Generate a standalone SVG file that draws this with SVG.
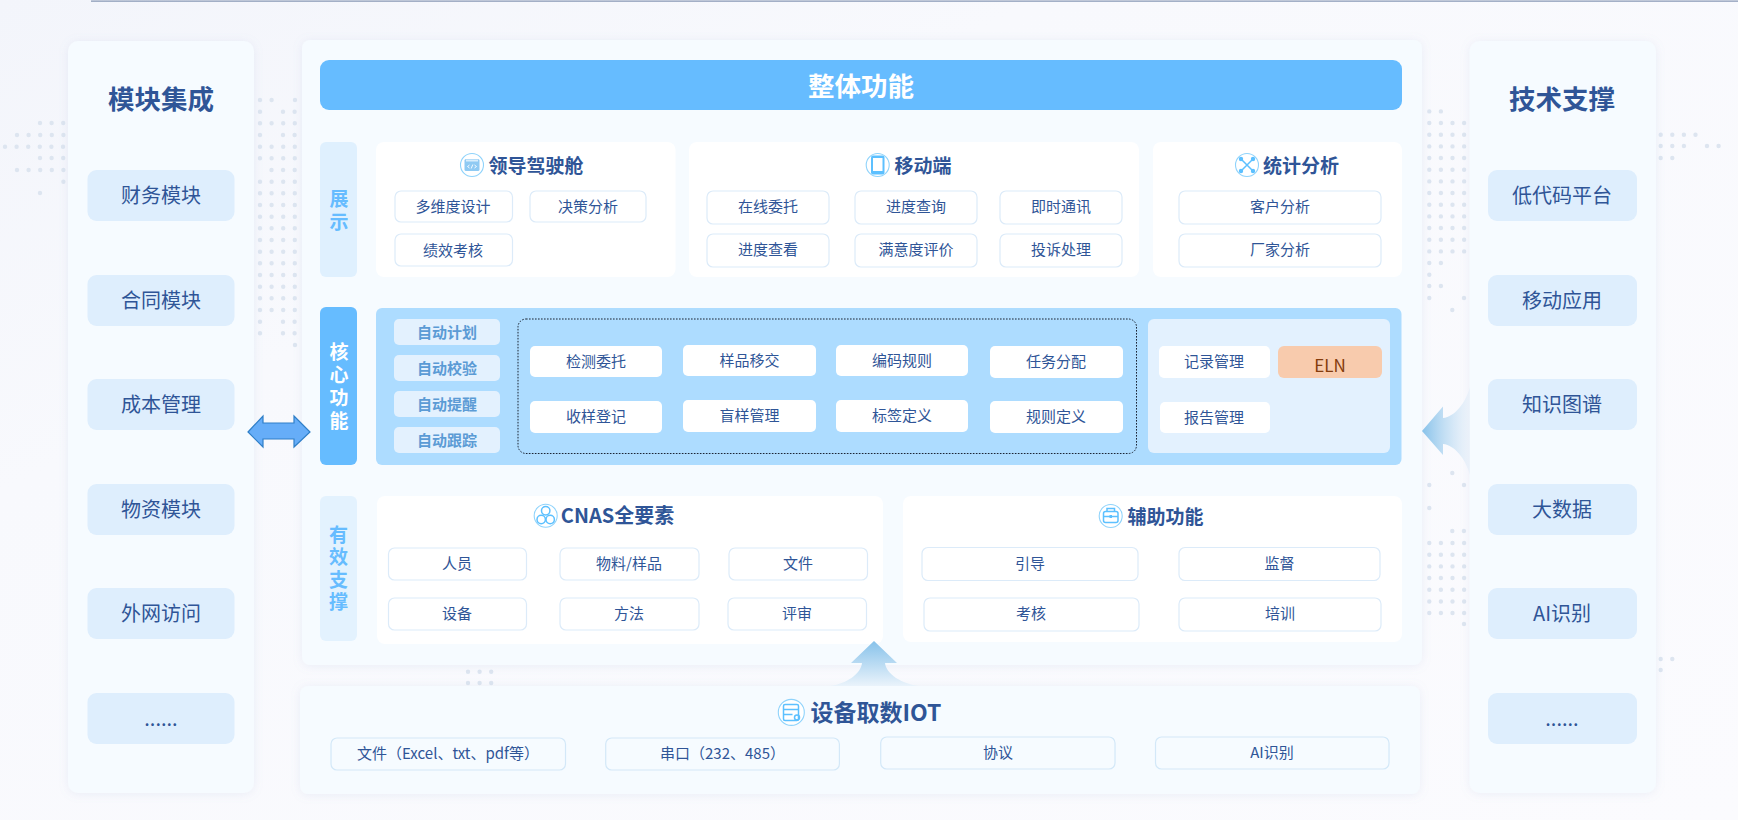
<svg xmlns="http://www.w3.org/2000/svg" width="1738" height="820" viewBox="0 0 1738 820">
<style>
text{font-family:"Noto Sans CJK SC","Noto Sans",sans-serif;text-anchor:middle;dominant-baseline:central;fill:#2f5597;font-size:15px;transform:translateY(-1px)}
.panel{fill:#f6fbff;filter:url(#sh)}
.card{fill:#fff}
.item{fill:#fff;stroke:#dcebf9;stroke-width:1.2}
.core{fill:#fff}
.low{fill:#f6fbff;stroke:#d3e8f8;stroke-width:1.2}
.mod{fill:#deeefd}
.mod+text{font-size:20px}
.h1{font-size:26.5px;font-weight:700}
.h2{font-size:19px;font-weight:700}
.v{font-size:19px;font-weight:700;fill:#66bcff;writing-mode:vertical-rl;letter-spacing:4px;transform:none}
.auto{fill:#e3f1fe}
.auto+text{font-weight:700;fill:#5b9bd5}
.dots{fill:none;stroke:#dde5f0;stroke-width:4.4;stroke-linecap:round;stroke-dasharray:0 11.6}
.ring{fill:#fff;stroke:#8fd3fb;stroke-width:1.1}
.ic{fill:none;stroke:#5cc0ff;stroke-width:1.5}
.if{fill:#5cc0ff}
</style>
<defs>
<linearGradient id="bg" x1="0" y1="0" x2="1" y2="1"><stop offset="0" stop-color="#f3f5fb"/><stop offset=".3" stop-color="#f8f9fd"/><stop offset="1" stop-color="#fbfbfe"/></linearGradient>
<linearGradient id="ar" x1="0" x2="1" y1="0" y2="0"><stop offset="0" stop-color="#87c2ea"/><stop offset="1" stop-color="#e4eef9" stop-opacity=".5"/></linearGradient>
<linearGradient id="au" x1="0" x2="0" y1="0" y2="1"><stop offset="0" stop-color="#87c2ea"/><stop offset="1" stop-color="#eaf3fb"/></linearGradient>
<filter id="sh" x="-10%" y="-10%" width="120%" height="120%"><feDropShadow dx="0" dy="1" stdDeviation="5" flood-color="#8a9cc8" flood-opacity=".14"/></filter>
</defs>
<rect width="1738" height="820" fill="url(#bg)"/>
<path d="M91 1.2H1738" stroke="#8797b4" stroke-width="1.3"/>

<g id="background-dots">
<path class="dots" d="M260 100h12M295 100h1M260 111.7h1M283 111.7h13M260 123.3h36M260 135h1M283 135h13M260 146.7h36M260 158.3h36M271.5 170h25M260 181.7h36M260 193.3h36M260 205h36M260 216.7h36M260 228.3h36M260 240h36M260 251.7h36M260 263.3h36M260 275h36M260 286.7h36M260 298.3h36M260 310h36M260 321.7h1M283 321.7h13M260 333.3h1M283 333.3h13M295 345h1"/>
<path class="dots" d="M1429.3 111.4h13M1429.3 123h36M1429.3 134.7h36M1429.3 146.4h36M1429.3 158h36M1429.3 169.7h36M1429.3 181.4h36M1429.3 193h36M1429.3 204.7h36M1429.3 216.4h36M1429.3 228h36M1429.3 239.7h36M1429.3 251.4h36M1429.3 263h13M1429.3 274.7h1M1429.3 286h13M1429.3 298h1M1464 298h1M1452.3 310h1M1452.3 473h1M1429.3 485h1M1464 485h1M1429.3 508h1M1452.3 531h13M1429.3 543h36M1429.3 554.7h36M1429.3 566.4h36M1429.3 578h36M1429.3 589.8h36M1429.3 601.5h36M1429.3 613h36M1464 624h1"/>
<path class="dots" d="M40 123h24M17 135h47M5 146.7h59M40 158h24M17 170h47M63.4 181.7h1M40 193h1"/>
<path class="dots" d="M1660.7 134.7h36M1660.7 146h24M1707 146h12M1660.7 158h12M1660.7 659h12M1660.7 670h1"/>
<path class="dots" d="M468 671.7h25M468 683h25"/>
</g>

<g id="left-panel">
<rect class="panel" x="68" y="41" width="186" height="752" rx="10"/>
<text class="h1" x="161" y="98">模块集成</text>
</g>
<g id="m-caiwu"><rect class="mod" x="87.5" y="170" width="147" height="51" rx="9"/><text x="161" y="195">财务模块</text></g>
<g id="m-hetong"><rect class="mod" x="87.5" y="275" width="147" height="51" rx="9"/><text x="161" y="300">合同模块</text></g>
<g id="m-chengben"><rect class="mod" x="87.5" y="379" width="147" height="51" rx="9"/><text x="161" y="404">成本管理</text></g>
<g id="m-wuzi"><rect class="mod" x="87.5" y="484" width="147" height="51" rx="9"/><text x="161" y="509">物资模块</text></g>
<g id="m-waiwang"><rect class="mod" x="87.5" y="588" width="147" height="51" rx="9"/><text x="161" y="613">外网访问</text></g>
<g id="m-more"><rect class="mod" x="87.5" y="693" width="147" height="51" rx="9"/><text x="161" y="718">......</text></g>

<g id="right-panel">
<rect class="panel" x="1469.5" y="41" width="186.5" height="752" rx="10"/>
<text class="h1" x="1562" y="98">技术支撑</text>
</g>
<g id="t-lowcode"><rect class="mod" x="1488" y="170" width="149" height="51" rx="9"/><text x="1562" y="195">低代码平台</text></g>
<g id="t-mobile"><rect class="mod" x="1488" y="275" width="149" height="51" rx="9"/><text x="1562" y="300">移动应用</text></g>
<g id="t-kg"><rect class="mod" x="1488" y="379" width="149" height="51" rx="9"/><text x="1562" y="404">知识图谱</text></g>
<g id="t-bigdata"><rect class="mod" x="1488" y="484" width="149" height="51" rx="9"/><text x="1562" y="509">大数据</text></g>
<g id="t-ai"><rect class="mod" x="1488" y="588" width="149" height="51" rx="9"/><text x="1562" y="613">AI识别</text></g>
<g id="t-more"><rect class="mod" x="1488" y="693" width="149" height="51" rx="9"/><text x="1562" y="718">......</text></g>

<g id="main-panel">
<rect class="panel" x="302" y="40" width="1120" height="625" rx="8"/>
</g>
<g id="overall"><rect x="320" y="60" width="1082" height="50" rx="9" fill="#66bcff"/><text class="h1" style="fill:#fff" x="861" y="85">整体功能</text></g>

<g id="side-display"><rect x="320" y="142" width="37" height="135" rx="6" fill="#dff0fe"/><text class="v" x="339" y="212.500">展示</text></g>
<g id="side-core"><rect x="320" y="307" width="37" height="158" rx="6" fill="#66bcff"/><text class="v" style="fill:#fff" x="339" y="388.500">核心功能</text></g>
<g id="side-support"><rect x="320" y="496" width="37" height="145" rx="6" fill="#e3f2fe"/><text class="v" style="letter-spacing:3.300px" x="338.500" y="570">有效支撑</text></g>

<g id="cockpit">
<rect class="card" x="376" y="142" width="299.500" height="135" rx="8"/>
<circle class="ring" cx="472" cy="165" r="11.500"/><rect x="464.500" y="159" width="15" height="12" rx="1.500" fill="#8fcaf3"/><path d="M466 160.500h12" stroke="#d8eefc" stroke-width="2"/><path d="M469.500 165l-2 1.500 2 1.500M474.500 165l2 1.500-2 1.500M472.800 164.500l-1.600 4" fill="none" stroke="#fff" stroke-width=".9"/>
<text class="h2" x="536" y="165">领导驾驶舱</text>
<rect class="item" x="395" y="191" width="117.500" height="31" rx="6"/><text x="453" y="206">多维度设计</text>
<rect class="item" x="530" y="191" width="116" height="31" rx="6"/><text x="588" y="206">决策分析</text>
<rect class="item" x="395" y="234" width="117.500" height="32" rx="6"/><text x="453" y="250">绩效考核</text>
</g>
<g id="mobile">
<rect class="card" x="689" y="142" width="450" height="135" rx="8"/>
<circle class="ring" cx="877.700" cy="165" r="11.500"/><rect x="871" y="155.500" width="13.500" height="19" rx="2" class="if"/><rect x="873" y="158" width="9.500" height="13" fill="#fff"/>
<text class="h2" x="923" y="165">移动端</text>
<rect class="item" x="707" y="191" width="122" height="33" rx="6"/><text x="768" y="206.500">在线委托</text>
<rect class="item" x="855" y="191" width="122" height="33" rx="6"/><text x="916" y="206.500">进度查询</text>
<rect class="item" x="1000" y="191" width="122" height="33" rx="6"/><text x="1061" y="206.500">即时通讯</text>
<rect class="item" x="707" y="234" width="122" height="33" rx="6"/><text x="768" y="249.500">进度查看</text>
<rect class="item" x="855" y="234" width="122" height="33" rx="6"/><text x="916" y="249.500">满意度评价</text>
<rect class="item" x="1000" y="234" width="122" height="33" rx="6"/><text x="1061" y="249.500">投诉处理</text>
</g>
<g id="stats">
<rect class="card" x="1153" y="142" width="249" height="135" rx="8"/>
<circle class="ring" cx="1247" cy="165" r="11.500"/><path class="ic" d="M1241 159l12 12M1253 159l-12 12"/><circle class="if" cx="1241" cy="159" r="2.200"/><circle class="if" cx="1253" cy="159" r="2.200"/><circle class="if" cx="1241" cy="171" r="2.200"/><circle class="if" cx="1253" cy="171" r="2.200"/>
<text class="h2" x="1301" y="165">统计分析</text>
<rect class="item" x="1179" y="191" width="202" height="33" rx="6"/><text x="1280" y="206.500">客户分析</text>
<rect class="item" x="1179" y="234" width="202" height="33" rx="6"/><text x="1280" y="249.500">厂家分析</text>
</g>

<g id="core-box"><rect x="376" y="308" width="1025.500" height="157" rx="6" fill="#addcff"/></g>
<g id="auto-plan"><rect class="auto" x="394" y="319" width="106" height="26" rx="5"/><text x="447" y="332">自动计划</text></g>
<g id="auto-check"><rect class="auto" x="394" y="355" width="106" height="26" rx="5"/><text x="447" y="368">自动校验</text></g>
<g id="auto-remind"><rect class="auto" x="394" y="391" width="106" height="26" rx="5"/><text x="447" y="404">自动提醒</text></g>
<g id="auto-track"><rect class="auto" x="394" y="427" width="106" height="26" rx="5"/><text x="447" y="440">自动跟踪</text></g>
<g id="core-flow">
<rect x="518" y="319" width="618.500" height="134.500" rx="8" fill="none" stroke="#1a2433" stroke-width="1" stroke-dasharray="1.600 1.400"/>
<rect class="core" x="530" y="346" width="132" height="31" rx="5"/><text x="596" y="361">检测委托</text>
<rect class="core" x="683" y="345" width="133" height="31" rx="5"/><text x="749.500" y="360">样品移交</text>
<rect class="core" x="836" y="345" width="132" height="31" rx="5"/><text x="902" y="360">编码规则</text>
<rect class="core" x="990" y="346" width="133" height="32" rx="5"/><text x="1056" y="361">任务分配</text>
<rect class="core" x="530" y="401" width="132" height="32" rx="5"/><text x="596" y="416">收样登记</text>
<rect class="core" x="683" y="400" width="133" height="32" rx="5"/><text x="749.500" y="415">盲样管理</text>
<rect class="core" x="836" y="400" width="132" height="32" rx="5"/><text x="902" y="415">标签定义</text>
<rect class="core" x="990" y="401" width="133" height="32" rx="5"/><text x="1056" y="416">规则定义</text>
</g>
<g id="core-record">
<rect x="1148" y="319" width="242" height="134" rx="6" fill="#e3f1fe"/>
<rect class="core" x="1159" y="346" width="111" height="32" rx="5"/><text x="1214" y="361">记录管理</text>
<rect x="1278" y="346" width="104" height="32" rx="6" fill="#f8cbad"/><text x="1330" y="365" style="fill:#843c0c;font-size:17px">ELN</text>
<rect class="core" x="1160" y="402" width="110" height="31" rx="5"/><text x="1214" y="417">报告管理</text>
</g>

<g id="cnas">
<rect class="card" x="377" y="496" width="506" height="148" rx="8"/>
<circle class="ring" cx="545.700" cy="515.700" r="11.500"/><circle class="ic" cx="545.700" cy="510.700" r="4.200"/><circle class="ic" cx="541.200" cy="519.500" r="4.200"/><circle class="ic" cx="550.200" cy="519.500" r="4.200"/>
<text class="h2" style="font-size:20px" x="617.500" y="515.500">CNAS全要素</text>
<rect class="item" x="388.500" y="548" width="138" height="32" rx="6"/><text x="457" y="563.500">人员</text>
<rect class="item" x="560" y="548" width="139" height="32" rx="6"/><text x="629" y="563.500">物料/样品</text>
<rect class="item" x="729" y="548" width="138.500" height="32" rx="6"/><text x="798" y="563.500">文件</text>
<rect class="item" x="388.500" y="598" width="138" height="32" rx="6"/><text x="457" y="613.500">设备</text>
<rect class="item" x="560" y="598" width="139" height="32" rx="6"/><text x="629" y="613.500">方法</text>
<rect class="item" x="728" y="598" width="138.500" height="32" rx="6"/><text x="797" y="613.500">评审</text>
</g>
<g id="aux">
<rect class="card" x="903" y="496" width="499" height="146" rx="8"/>
<circle class="ring" cx="1110.700" cy="516" r="11.500"/><rect class="ic" x="1103.500" y="511.500" width="14.500" height="11" rx="2"/><path class="ic" d="M1107 511.500v-3h7.500v3M1103.500 516.500h14.500"/><rect class="if" x="1109.500" y="515" width="2.500" height="3"/>
<text class="h2" x="1165.500" y="516">辅助功能</text>
<rect class="item" x="922" y="547.500" width="216" height="33" rx="6"/><text x="1030" y="563.500">引导</text>
<rect class="item" x="1179" y="547.500" width="201" height="33" rx="6"/><text x="1279.500" y="563.500">监督</text>
<rect class="item" x="924" y="598" width="215" height="33" rx="6"/><text x="1031" y="613.500">考核</text>
<rect class="item" x="1179" y="598" width="202" height="33" rx="6"/><text x="1280" y="613.500">培训</text>
</g>

<g id="iot">
<rect class="panel" x="300" y="686" width="1120" height="108" rx="8"/>
<circle class="ring" cx="791.300" cy="712.400" r="13"/><rect class="ic" x="783.500" y="704.500" width="15" height="16" rx="1.500"/><path class="ic" d="M783.500 709.500h15M783.500 714.500h9"/><circle class="ic" cx="797" cy="717.500" r="2.500"/>
<text x="876" y="712" style="font-size:23px;font-weight:700">设备取数IOT</text>
<rect class="low" x="331" y="738" width="234.500" height="32" rx="6"/><text x="448" y="753.500">文件（Excel、txt、pdf等）</text>
<rect class="low" x="605.700" y="738" width="233.700" height="32" rx="6"/><text x="722.500" y="753.500">串口（232、485）</text>
<rect class="low" x="880.700" y="737" width="234.300" height="32" rx="6"/><text x="998" y="752.500">协议</text>
<rect class="low" x="1155.500" y="737" width="233.500" height="32" rx="6"/><text x="1272" y="752.500">AI识别</text>
</g>

<g id="connectors">
<path d="M248 432L263 416V423H294V416L310 432L294 447V439H263V447Z" fill="#66adf8" stroke="#2f7fc8" stroke-width="1.200"/>
<path d="M1422 431L1443 406.500V418C1455 417 1466 402 1470 387V475C1466 460 1455 445 1443 444V455Z" fill="url(#ar)"/>
<path d="M874 641L897 663H885C886 674 902 684 919 686H830C846 684 861 674 862 663H851Z" fill="url(#au)"/>
</g>
</svg>
